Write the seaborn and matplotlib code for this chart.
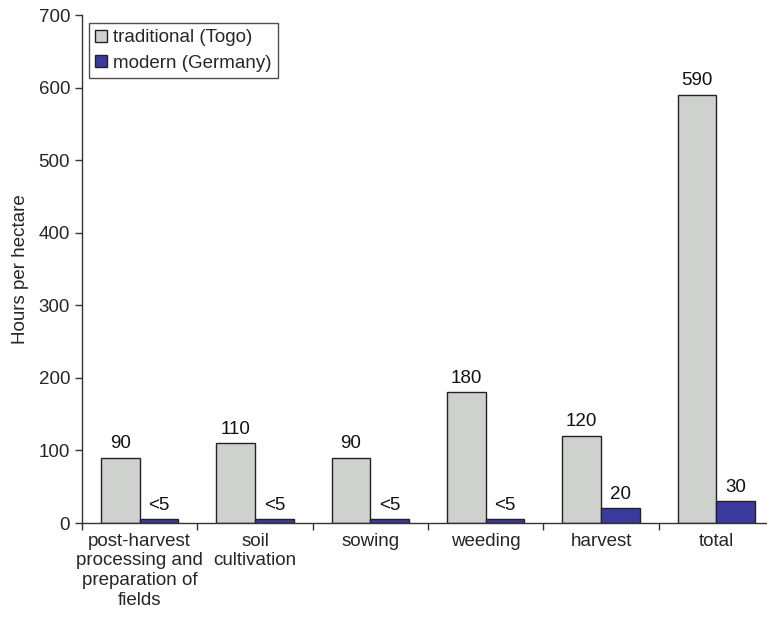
import numpy as np
import pandas as pd
import matplotlib
matplotlib.use("Agg")
import matplotlib.pyplot as plt
import seaborn as sns

# Données
categories = ["post-harvest\nprocessing and\npreparation of\nfields", "soil\ncultivation",
              "sowing", "weeding", "harvest", "total"]
traditional = [90, 110, 90, 180, 120, 590]
modern = [5, 5, 5, 5, 20, 30]
trad_labels = ["90", "110", "90", "180", "120", "590"]
mod_labels = ["<5", "<5", "<5", "<5", "20", "30"]
series = ["traditional (Togo)", "modern (Germany)"]

df = pd.DataFrame({
    "cat": categories * 2,
    "val": traditional + modern,
    "serie": [series[0]] * 6 + [series[1]] * 6,
})

sns.set_style("ticks")
plt.rcParams["font.family"] = ["Liberation Sans", "DejaVu Sans"]
fs = 13.5

fig = plt.figure(figsize=(7.67, 6.17), dpi=100)
ax = fig.add_axes([82 / 767, 1 - 523 / 617, 692 / 767, 508 / 617])

sns.barplot(data=df, x="cat", y="val", hue="serie", order=categories, hue_order=series,
            palette=["#cfd1cf", "#3b3b9f"], width=0.67, gap=0, edgecolor="#222222",
            linewidth=1.0, saturation=1, ax=ax, errorbar=None)

for cont, labs in zip(ax.containers, [trad_labels, mod_labels]):
    ax.bar_label(cont, labels=labs, padding=4, fontsize=fs, color="#111111")

ax.set_ylim(0, 700)
ax.set_xlim(-0.5, 5.5)
ax.set_yticks(np.arange(0, 701, 100))
ax.tick_params(axis="y", labelsize=fs, length=5, width=1, color="#333333")

# ticks entre les catégories, étiquettes au centre
ax.set_xticks(np.arange(-0.5, 6, 1))
ax.set_xticklabels([])
ax.set_xticks(np.arange(6), minor=True)
ax.set_xticklabels(categories, minor=True, fontsize=fs, linespacing=1.2)
ax.tick_params(axis="x", which="major", length=5, width=1, color="#333333")
ax.tick_params(axis="x", which="minor", length=0, pad=7)

ax.set_xlabel("")
ax.set_ylabel("Hours per hectare", fontsize=fs, labelpad=7)
sns.despine(ax=ax)
for s in ["left", "bottom"]:
    ax.spines[s].set_color("#333333")
    ax.spines[s].set_linewidth(1)

leg = ax.legend(loc="upper left", bbox_to_anchor=(0.01, 0.985), fontsize=fs, frameon=True,
                fancybox=False, edgecolor="#222222", handlelength=0.6, handleheight=0.6,
                handletextpad=0.35, borderpad=0.35, labelspacing=0.45, borderaxespad=0)
leg.get_frame().set_linewidth(1)

fig.savefig("out.png", dpi=100)
